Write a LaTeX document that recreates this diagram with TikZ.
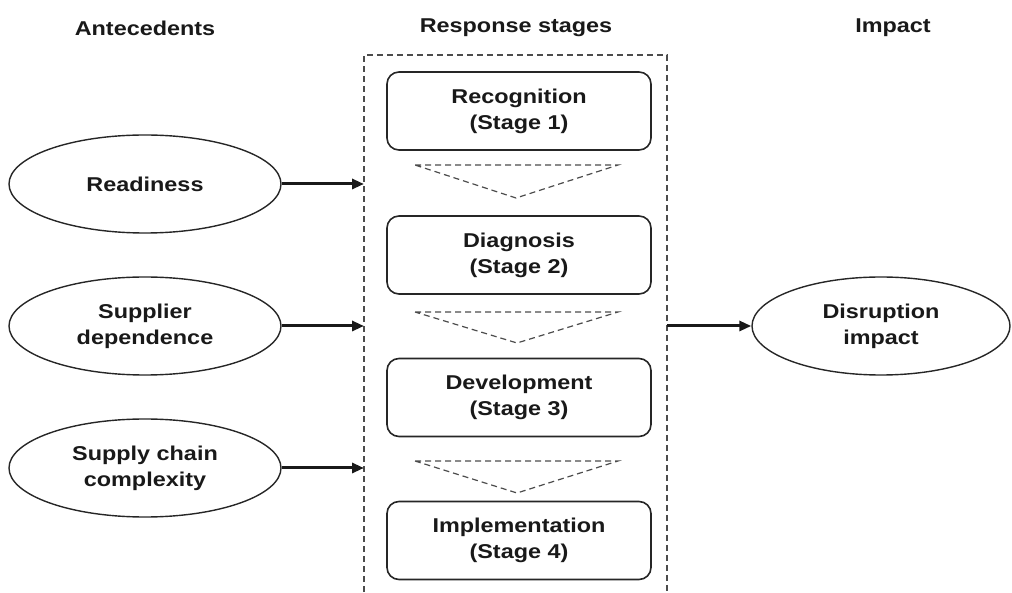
\documentclass[tikz,border=0pt]{standalone}
\usepackage{fontspec}
\setmainfont[FakeStretch=1.17]{Liberation Sans}
\usetikzlibrary{arrows.meta,shapes.geometric}
\begin{document}
\begin{tikzpicture}[x=1pt,y=1pt,
  txt/.style={font=\fontsize{20}{26}\selectfont\bfseries, text=black!90, align=center},
  oval/.style={txt, draw=black!85, line width=1.4pt, ellipse, inner sep=0pt, minimum width=272pt, minimum height=98pt},
  stagebox/.style={txt, draw=black!85, line width=1.6pt, rounded corners=12pt, minimum width=264pt, minimum height=78pt, inner sep=0pt},
  flow/.style={line width=3pt, black!90, -{Triangle[length=12pt,width=10pt]}},
  dashline/.style={draw=black!70, line width=1.2pt, dash pattern=on 6pt off 4pt},
  head/.style={txt}
]
\useasboundingbox (0,0) rectangle (1012,592);
% headings
\node[head] (hA) at (145,564) {Antecedents};
\node[head] (hR) at (516,564) {Response stages};
\node[head] (hI) at (893,564) {Impact};
% dashed container (open at bottom)
\draw[dashline] (364,0) -- (364,537) -- (667,537) -- (667,0);
\coordinate (in1) at (364,408);
\coordinate (in2) at (364,266);
\coordinate (in3) at (364,124);
\coordinate (out) at (667,266);
% stages
\node[stagebox] (s1) at (519,481) {Recognition\\(Stage 1)};
\node[stagebox] (s2) at (519,337) {Diagnosis\\(Stage 2)};
\node[stagebox] (s3) at (519,194.5) {Development\\(Stage 3)};
\node[stagebox] (s4) at (519,51.5) {Implementation\\(Stage 4)};
% dashed down-triangles
\draw[dashline] (415,427) -- (618,427) -- (516,394) -- cycle;
\draw[dashline] (415,280) -- (618,280) -- (517,249) -- cycle;
\draw[dashline] (415,131) -- (618,131) -- (517,99) -- cycle;
% antecedents
\node[oval] (r) at (145,408) {Readiness};
\node[oval] (sd) at (145,266) {Supplier\\dependence};
\node[oval] (sc) at (145,124) {Supply chain\\complexity};
% impact
\node[oval, minimum width=258pt] (di) at (881,266) {Disruption\\impact};
% arrows
\draw[flow] (r) -- (in1);
\draw[flow] (sd) -- (in2);
\draw[flow] (sc) -- (in3);
\draw[flow] (out) -- (di);
\end{tikzpicture}
\end{document}
